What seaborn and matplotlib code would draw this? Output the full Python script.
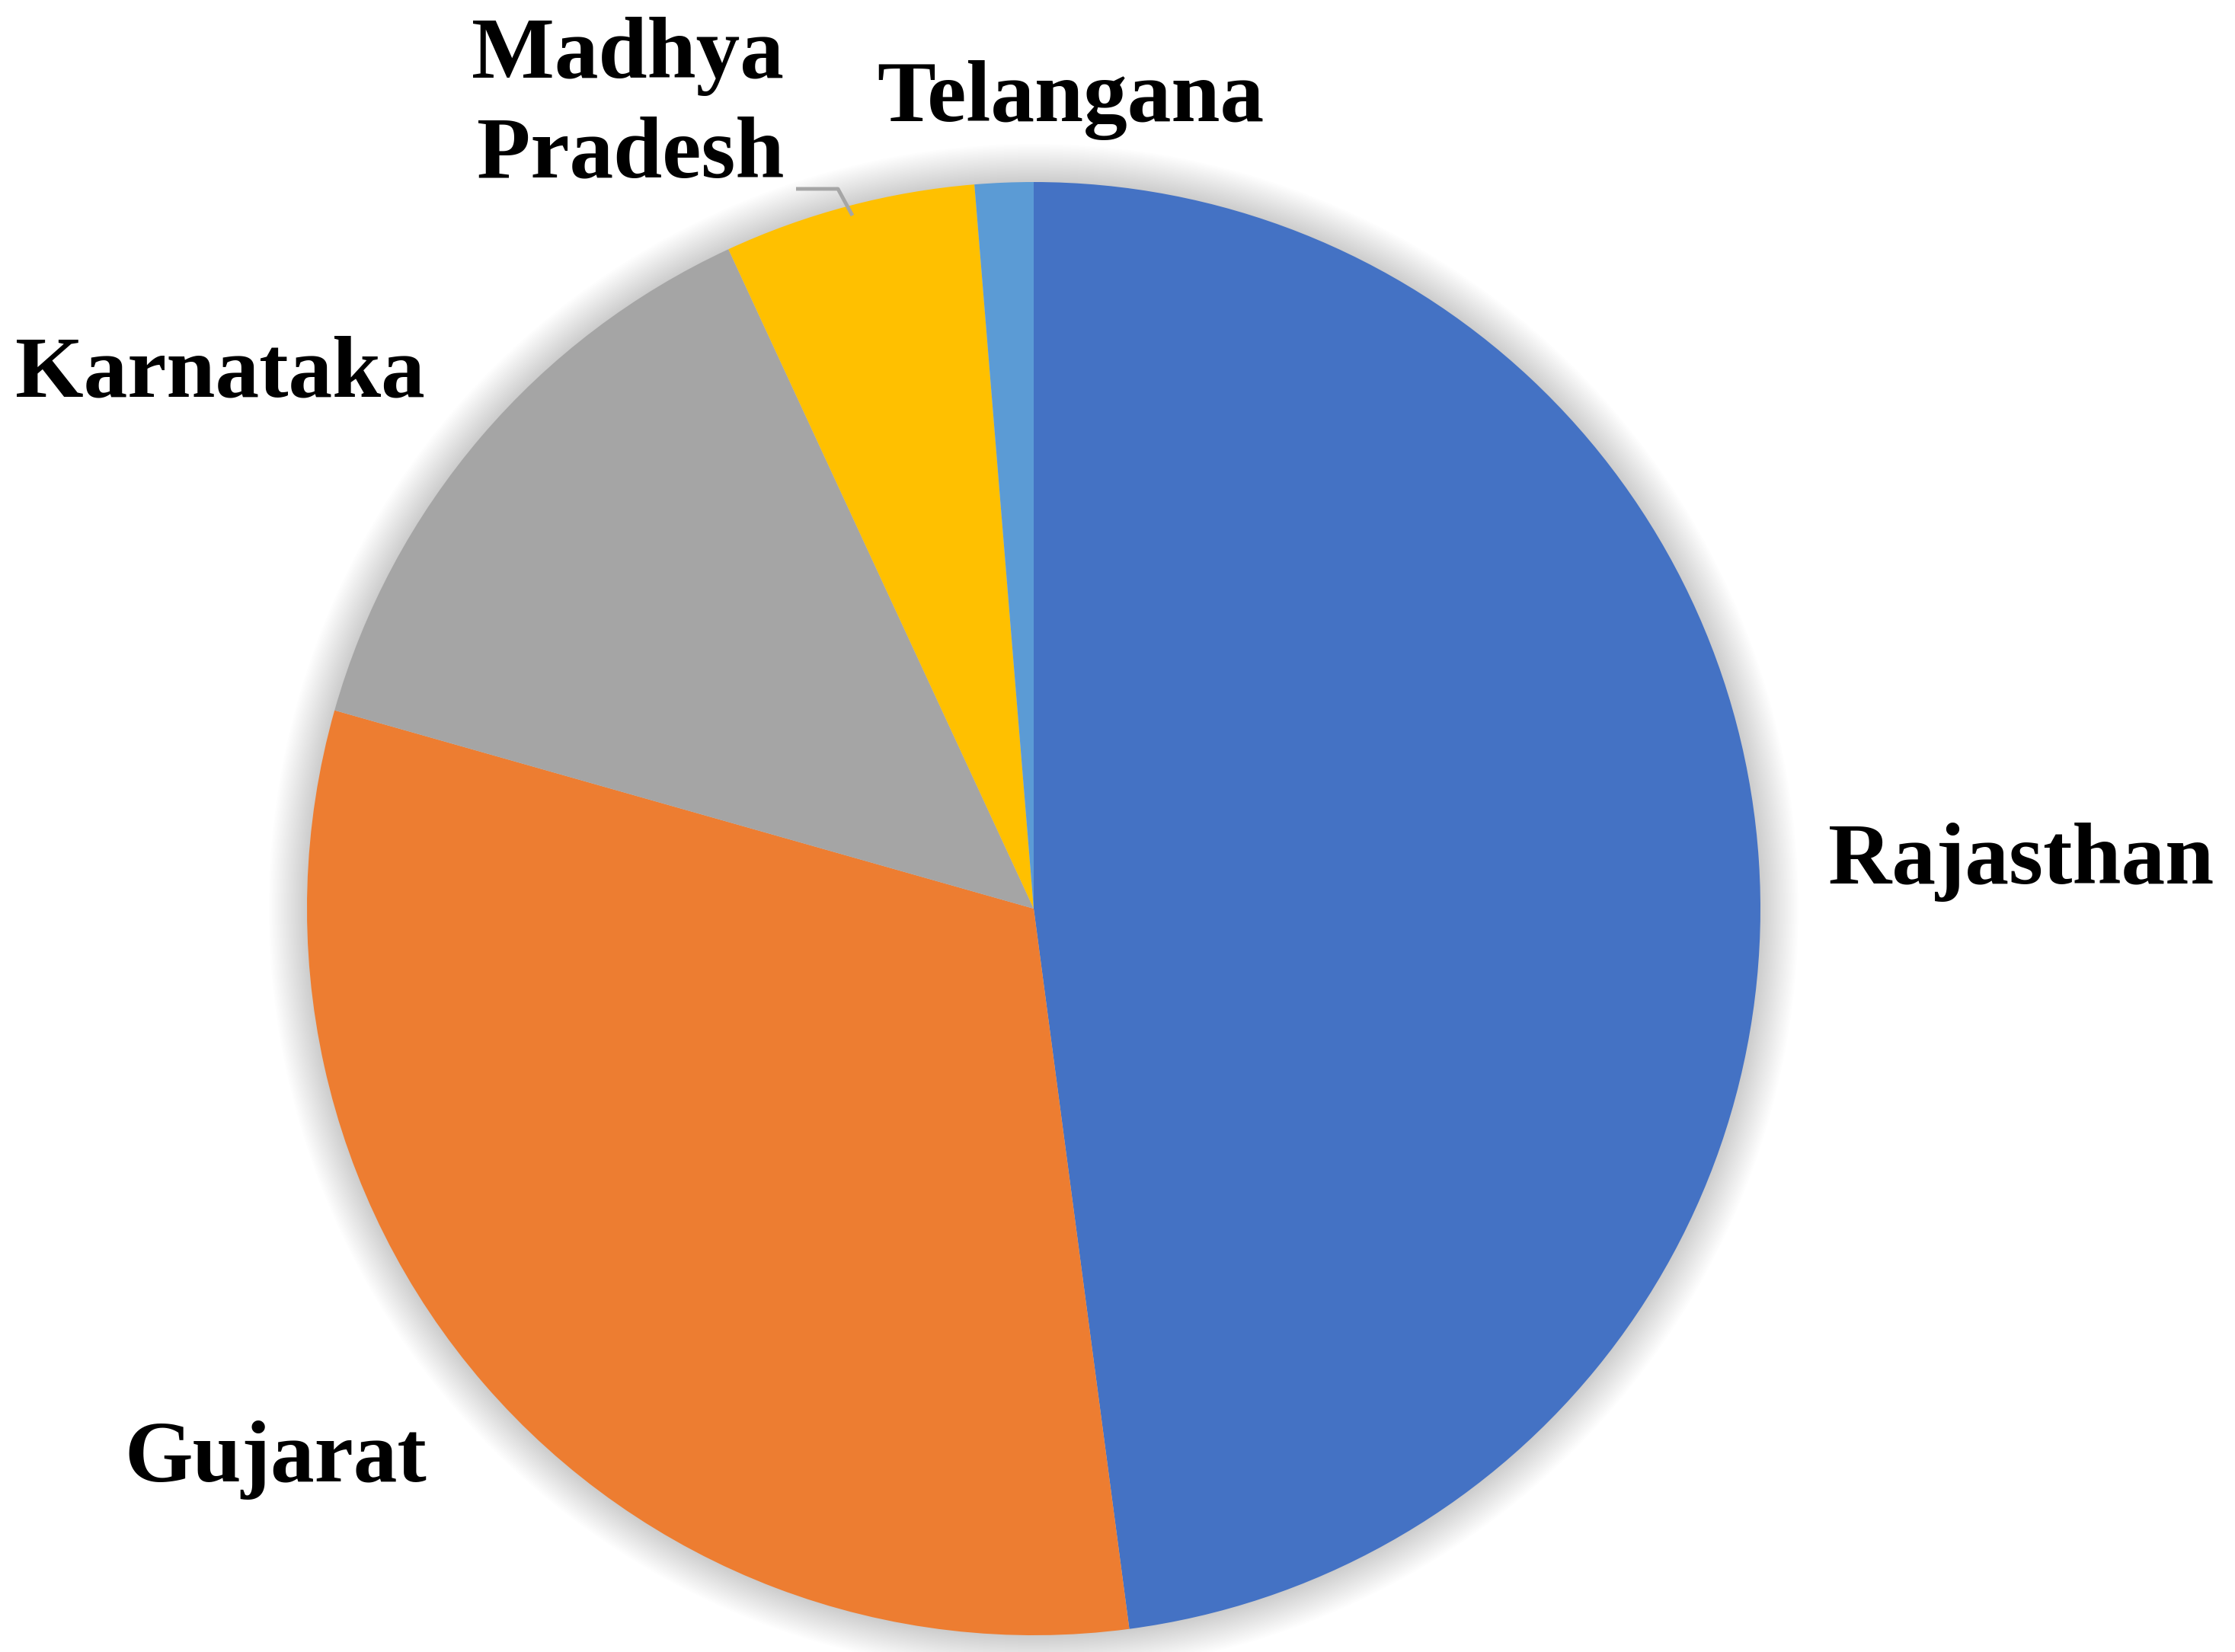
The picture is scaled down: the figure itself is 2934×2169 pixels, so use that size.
"""
Pie chart of state shares (Rajasthan, Gujarat, Karnataka, Madhya Pradesh, Telangana).
"""

import matplotlib
matplotlib.use("Agg")
import matplotlib.pyplot as plt
from matplotlib.patches import Circle
import seaborn as sns

# ── Data ──────────────────────────────────────────────────────────────
STATES = ["Rajasthan", "Gujarat", "Karnataka", "Madhya Pradesh", "Telangana"]
SHARES = [47.9, 31.5, 13.7, 5.6, 1.3]
COLORS = ["#4472C4", "#ED7D31", "#A5A5A5", "#FFC000", "#5B9BD5"]

W, H = 2934, 2169
CENTER = (1357, 1193)
RADIUS = 954

sns.set_style("white")
plt.rcParams["font.family"] = ["Liberation Serif", "DejaVu Serif"]

fig = plt.figure(figsize=(W / 100, H / 100), dpi=100)
ax = fig.add_axes([0, 0, 1, 1])

# soft shadow round the pie
for i in range(1, 26):
    ax.add_patch(Circle(CENTER, RADIUS + 2 * i, color="black", alpha=0.006, lw=0, zorder=0))

# y axis is flipped below, so counterclock=True reads clockwise from 12 o'clock
ax.pie(
    SHARES, colors=COLORS, startangle=270, counterclock=True,
    center=CENTER, radius=RADIUS,
    wedgeprops={"linewidth": 0, "zorder": 1},
)

ax.set_xlim(0, W)
ax.set_ylim(H, 0)
ax.set_aspect("equal")
ax.axis("off")

# ── Labels (left x / baseline y in pixels) ───────────────────────────
txt = dict(fontsize=83, fontweight="bold", color="black", va="baseline")
ax.text(2400, 1160, STATES[0], ha="left", **txt)
ax.text(163, 1945, STATES[1], ha="left", **txt)
ax.text(20, 520, STATES[2], ha="left", **txt)
mp_first, mp_second = STATES[3].split(" ")
ax.text(824, 102, mp_first, ha="center", **txt)
ax.text(828, 232, mp_second, ha="center", **txt)
ax.text(1151, 159, STATES[4], ha="left", **txt)

# leader line for Madhya Pradesh
ax.plot([1045, 1100, 1119], [248, 248, 283], color="#A6A6A6", lw=3.5,
        solid_capstyle="butt", zorder=3)

fig.savefig("out.png", dpi=100, facecolor="white")
plt.close(fig)
